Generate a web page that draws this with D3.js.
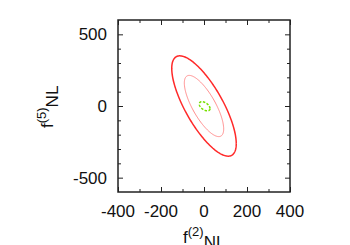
<!DOCTYPE html>
<html><head><meta charset="utf-8">
<script src="https://cdn.jsdelivr.net/npm/d3@7"></script>
<style>body{margin:0;background:#fff;}svg{display:block;}</style>
</head><body>
<svg id="c" width="350" height="245"></svg>
<script>
// Data: Fisher-forecast ellipses (center, sigma_x, sigma_y, correlation, contour scale)
const ellipseNames = ["outer", "inner", "green"];
const centersX = [0, 0, 3];
const centersY = [0, 0, -2];
const sigmaX = [150, 150, 25];
const sigmaY = [350, 350, 32];
const rhos = [-0.75, -0.75, -0.5];
const levels = [1.0, 0.61, 1.0];
const colors = ["#ff2a2a", "#ff8c8c", "#77e000"];
const widths = [1.5, 1.0, 1.5];
const dashes = [null, null, "2.5,1.5"];
const xTickLabels = [-400, -200, 0, 200, 400];
const xMinorTicks = [-300, -100, 100, 300];
const yTickLabels = [-500, 0, 500];
const yMinorTicks = [-400, -300, -200, -100, 100, 200, 300, 400];
const xDomain = [-400, 400];
const yDomain = [-600, 600];

const svg = d3.select("#c");
const L = 118, R = 290, T = 20, B = 192;
const x = d3.scaleLinear().domain(xDomain).range([L, R]);
const y = d3.scaleLinear().domain(yDomain).range([B, T]);
const font = "'Liberation Sans', Arial, Helvetica, sans-serif";

// ellipses
const angles = d3.range(0, 361, 2).map(a => a * Math.PI / 180);
const line = d3.line().x(d => x(d[0])).y(d => y(d[1]));
ellipseNames.forEach((n, i) => {
  const k = levels[i], r = rhos[i];
  const pts = angles.map(t => [
    centersX[i] + k * sigmaX[i] * Math.cos(t),
    centersY[i] + k * sigmaY[i] * (r * Math.cos(t) + Math.sqrt(1 - r * r) * Math.sin(t))
  ]);
  svg.append("path").attr("d", line(pts)).attr("fill", "none")
    .attr("stroke", colors[i]).attr("stroke-width", widths[i])
    .attr("stroke-dasharray", dashes[i]);
});

// axes with inward ticks on all sides
function ticks(axisGen, tr, size, vals) {
  const g = svg.append("g").attr("transform", tr)
    .call(axisGen.tickValues(vals).tickSize(size).tickFormat(""));
  g.select(".domain").remove();
  g.selectAll("line").attr("stroke", "#222").attr("stroke-width", 1);
}
ticks(d3.axisBottom(x), `translate(0,${B})`, -5, xTickLabels);
ticks(d3.axisBottom(x), `translate(0,${B})`, -3, xMinorTicks);
ticks(d3.axisTop(x), `translate(0,${T})`, -5, xTickLabels);
ticks(d3.axisTop(x), `translate(0,${T})`, -3, xMinorTicks);
ticks(d3.axisLeft(y), `translate(${L},0)`, -5, yTickLabels);
ticks(d3.axisLeft(y), `translate(${L},0)`, -3, yMinorTicks);
ticks(d3.axisRight(y), `translate(${R},0)`, -5, yTickLabels);
ticks(d3.axisRight(y), `translate(${R},0)`, -3, yMinorTicks);

svg.append("rect").attr("x", L).attr("y", T).attr("width", R - L).attr("height", B - T)
  .attr("fill", "none").attr("stroke", "#222").attr("stroke-width", 1.5);

// tick labels
svg.selectAll(".xl").data(xTickLabels).enter().append("text")
  .attr("x", d => x(d)).attr("y", 216.5).attr("text-anchor", "middle")
  .attr("font-family", font).attr("font-size", 17).attr("fill", "#111").text(d => d);
svg.selectAll(".yl").data(yTickLabels).enter().append("text")
  .attr("x", L - 11).attr("y", d => y(d) + 6).attr("text-anchor", "end")
  .attr("font-family", font).attr("font-size", 17).attr("fill", "#111").text(d => d);

// axis titles
const xt = svg.append("text").attr("x", 183).attr("y", 243)
  .attr("font-family", font).attr("font-size", 17).attr("fill", "#111");
xt.append("tspan").text("f");
xt.append("tspan").attr("dy", -7).attr("font-size", 13).text("(2)");
xt.append("tspan").attr("dy", 12).text("NL");

const yt = svg.append("text").attr("transform", "translate(53,128) rotate(-90)")
  .attr("font-family", font).attr("font-size", 17).attr("fill", "#111");
yt.append("tspan").text("f");
yt.append("tspan").attr("dy", -7).attr("font-size", 13).text("(5)");
yt.append("tspan").attr("dy", 12).text("NL");
</script>
</body></html>
